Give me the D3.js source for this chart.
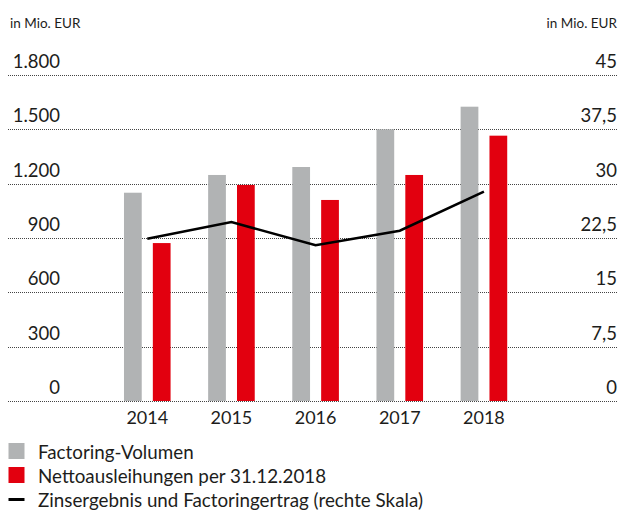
<!DOCTYPE html>
<html>
<head>
<meta charset="utf-8">
<script src="https://cdn.jsdelivr.net/npm/d3@7"></script>
<style>
  html, body { margin: 0; padding: 0; background: #fff; }
  svg { display: block; font-family: Lato, "Open Sans", sans-serif; }
</style>
</head>
<body>
<svg width="618" height="511"></svg>
<script>
const years = ["2014", "2015", "2016", "2017", "2018"];
const factoring = [1150, 1248, 1292, 1500, 1625];
const netto = [872, 1193, 1110, 1248, 1465];
const zins = [22.4, 24.7, 21.5, 23.5, 28.9];

const leftTicks = [0, 300, 600, 900, 1200, 1500, 1800];
const rightTicks = [0, 7.5, 15, 22.5, 30, 37.5, 45];

const legendLabels = [
  "Factoring-Volumen",
  "Nettoausleihungen per 31.12.2018",
  "Zinsergebnis und Factoringertrag (rechte Skala)"
];

const grey = "#b1b3b4";
const red = "#e2000f";
const ink = "#1d1d1b";

const svg = d3.select("svg");

const y = d3.scaleLinear().domain([0, 1800]).range([401, 75]);
const y2 = d3.scaleLinear().domain([0, 45]).range([401, 75]);
const x = d3.scaleBand().domain(years).range([105.2, 526]);
const inner = d3.scaleBand().domain(["f", "n"]).range([-23.3, 23.3]).paddingInner(0.385);

const deFmt = d3.formatLocale({ decimal: ",", thousands: ".", grouping: [3], currency: ["", " €"] });
const fmt = deFmt.format(",");

// units
svg.append("text").attr("x", 10).attr("y", 28)
  .attr("font-size", 13.5).attr("fill", ink).text("in Mio. EUR");
svg.append("text").attr("x", 617).attr("y", 28).attr("text-anchor", "end")
  .attr("font-size", 13.5).attr("fill", ink).text("in Mio. EUR");

// grid + labels
svg.append("g").selectAll("line").data(leftTicks).join("line")
  .attr("x1", 8).attr("x2", 618)
  .attr("y1", d => Math.round(y(d)) + 0.5).attr("y2", d => Math.round(y(d)) + 0.5)
  .attr("stroke", "#444").attr("stroke-width", 1).attr("stroke-dasharray", "1,1");

svg.append("g").selectAll("text").data(leftTicks).join("text")
  .attr("x", 60).attr("y", d => y(d) - 7).attr("text-anchor", "end")
  .attr("font-size", 18.5).attr("fill", ink).text(d => fmt(d));

svg.append("g").selectAll("text").data(rightTicks).join("text")
  .attr("x", 617).attr("y", d => y2(d) - 7).attr("text-anchor", "end")
  .attr("font-size", 18.5).attr("fill", ink).text(d => fmt(d));

// bars
const groups = svg.append("g").selectAll("g").data(years).join("g")
  .attr("transform", d => `translate(${x(d) + x.bandwidth() / 2},0)`);

groups.append("rect")
  .attr("x", inner("f")).attr("width", inner.bandwidth())
  .attr("y", (d, i) => y(factoring[i])).attr("height", (d, i) => y(0) - y(factoring[i]))
  .attr("fill", grey);

groups.append("rect")
  .attr("x", inner("n")).attr("width", inner.bandwidth())
  .attr("y", (d, i) => y(netto[i])).attr("height", (d, i) => y(0) - y(netto[i]))
  .attr("fill", red);

// line (right scale)
const line = d3.line()
  .x((d, i) => x(years[i]) + x.bandwidth() / 2)
  .y(d => y2(d));
svg.append("path").datum(zins)
  .attr("d", line).attr("fill", "none")
  .attr("stroke", "#000").attr("stroke-width", 2.6);

// year labels
svg.append("g").selectAll("text").data(years).join("text")
  .attr("x", d => x(d) + x.bandwidth() / 2).attr("y", 424)
  .attr("text-anchor", "middle").attr("font-size", 18).attr("fill", ink)
  .text(d => d);

// legend
const legend = svg.append("g");
legend.append("rect").attr("x", 8.5).attr("y", 443).attr("width", 16).attr("height", 16).attr("fill", grey);
legend.append("rect").attr("x", 8.5).attr("y", 467).attr("width", 16).attr("height", 16).attr("fill", red);
legend.append("line").attr("x1", 8.5).attr("x2", 24.5).attr("y1", 499.5).attr("y2", 499.5)
  .attr("stroke", "#000").attr("stroke-width", 3);
legend.selectAll("text").data(legendLabels).join("text")
  .attr("x", 38).attr("y", (d, i) => 458.5 + i * 24)
  .attr("font-size", 18.8).attr("fill", ink).text(d => d);
</script>
</body>
</html>
